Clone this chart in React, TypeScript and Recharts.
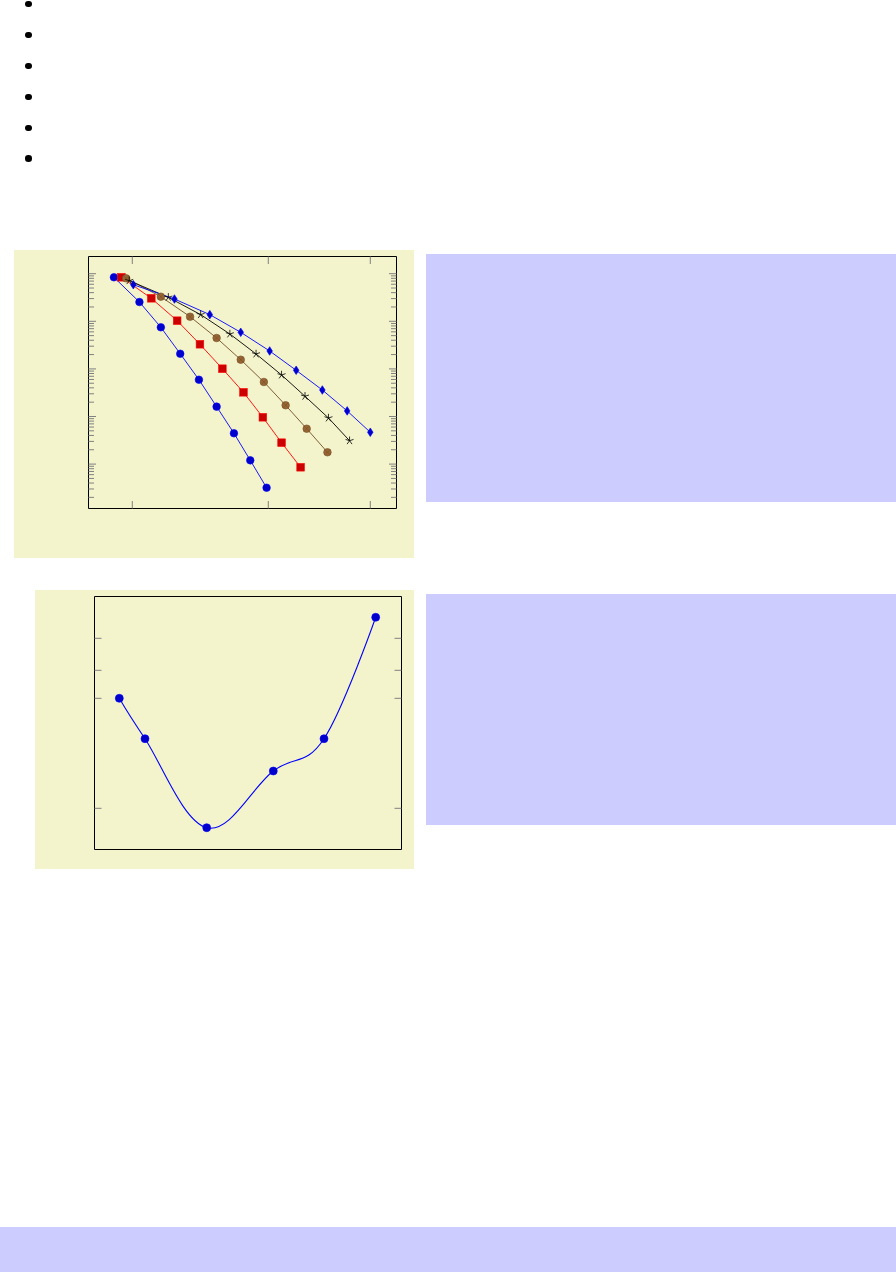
import React from 'react';
import { LineChart, Line, XAxis, YAxis, ReferenceArea } from 'recharts';

// ---------- data: chart 1 (log y) ----------
const seriesAx = [1.46, 2.21, 2.84, 3.41, 3.96, 4.48, 4.99, 5.47, 5.95];
const seriesAy = [0.84, 0.254, 0.0748, 0.0208, 0.00593, 0.00161, 4.44e-4, 1.2e-4, 3.19e-5];
const seriesBx = [1.68, 2.56, 3.32, 3.99, 4.65, 5.27, 5.84, 6.39, 6.95];
const seriesBy = [0.84, 0.304, 0.103, 0.0329, 0.0101, 0.00322, 9.62e-4, 2.82e-4, 8.57e-5];
const seriesCx = [1.82, 2.84, 3.7, 4.48, 5.19, 5.87, 6.51, 7.13, 7.74];
const seriesCy = [0.8, 0.329, 0.125, 0.0446, 0.0156, 0.00531, 0.00172, 5.54e-4, 1.77e-4];
const seriesDx = [1.91, 3.06, 4.01, 4.87, 5.64, 6.39, 7.08, 7.77, 8.39];
const seriesDy = [0.713, 0.319, 0.138, 0.0541, 0.0206, 0.00745, 0.00266, 9.3e-4, 3.1e-4];
const seriesEx = [2.03, 3.24, 4.28, 5.19, 6.04, 6.82, 7.59, 8.32, 9.0];
const seriesEy = [0.587, 0.294, 0.138, 0.0587, 0.0238, 0.00935, 0.0036, 0.00131, 4.66e-4];

const xTicks1 = [2, 6, 9];
const yMajor1 = [1, 0.1, 0.01, 0.001, 0.0001];
const yMantissas = [2, 3, 4, 5, 6, 7, 8, 9];
const yMinorExps = [-1, -2, -3, -4, -5];

// ---------- data: chart 2 ----------
const curveX = [2.48, 5.05, 11.22, 17.88, 22.95, 28.12];
const curveY = [15.12, 11.08, 2.18, 7.85, 11.08, 23.22];
const yTicks2 = [21.12, 17.92, 15.12, 4.12];

const bulletRows = [0, 1, 2, 3, 4, 5];

const zip = (xs: number[], ys: number[]) => xs.map((x, i) => ({ x, y: ys[i] }));

const yMinor1 = yMinorExps.flatMap((e) => yMantissas.map((m) => m * Math.pow(10, e)));
const yTicks1 = [...yMajor1, ...yMinor1];

const PANEL_BG = '#F4F4CC';
const BOX_BG = '#CCCCFF';
const TICK = '#808080';

// chart 1 geometry (axes take 1px each)
const W1 = 400, H1 = 308;
const M1 = { top: 5.5, left: 73.5, right: 17.5, bottom: 48.5 };
const P1 = { left: 74.5, right: W1 - 17.5, top: 6.5, bottom: H1 - 49.5 };
// chart 2 geometry
const W2 = 379, H2 = 279;
const M2 = { top: 6.5, left: 58.5, right: 12.5, bottom: 19.5 };
const P2 = { left: 59.5, right: W2 - 12.5 };

const X1_DOMAIN: [number, number] = [0.712, 9.771];
const Y1_DOMAIN: [number, number] = [1.167e-5, 2.298];
const X2_DOMAIN: [number, number] = [0, 30.7];
const Y2_DOMAIN: [number, number] = [0, 25.3];

const isMajor = (v: number) => {
  const l = Math.log10(v);
  return Math.abs(l - Math.round(l)) < 1e-6;
};

// pgf/TikZ-like smooth curve
function pgfSmooth(context: any) {
  let pts: number[][] = [];
  return {
    areaStart() {},
    areaEnd() {},
    lineStart() {
      pts = [];
    },
    point(x: number, y: number) {
      pts.push([+x, +y]);
    },
    lineEnd() {
      const n = pts.length;
      if (!n) return;
      context.moveTo(pts[0][0], pts[0][1]);
      if (n === 1) return;
      if (n === 2) {
        context.lineTo(pts[1][0], pts[1][1]);
        return;
      }
      const k = 0.1833;
      for (let i = 0; i < n - 1; i++) {
        const p1 = pts[i];
        const p2 = pts[i + 1];
        let c1: number[];
        let c2: number[];
        if (i === 0) c1 = p1;
        else {
          const p0 = pts[i - 1];
          c1 = [p1[0] + k * (p2[0] - p0[0]), p1[1] + k * (p2[1] - p0[1])];
        }
        if (i + 2 >= n) c2 = p2;
        else {
          const p3 = pts[i + 2];
          c2 = [p2[0] - k * (p3[0] - p1[0]), p2[1] - k * (p3[1] - p1[1])];
        }
        context.bezierCurveTo(c1[0], c1[1], c2[0], c2[1], p2[0], p2[1]);
      }
    },
  };
}

// ---------- markers ----------
const dotCircle = (fill: string, stroke: string, r: number) => (p: any) => (
  <circle key={`c-${p.index}`} cx={p.cx} cy={p.cy} r={r} fill={fill} stroke={stroke} strokeWidth={0.6} />
);
const dotSquare = (p: any) => (
  <rect key={`s-${p.index}`} x={p.cx - 3.8} y={p.cy - 3.8} width={7.6} height={7.6} fill="#CC0000" stroke="#FF0000" strokeWidth={0.6} />
);
const dotOtimes = (p: any) => {
  const r = 3.8;
  const d = r * 0.7071;
  return (
    <g key={`o-${p.index}`}>
      <circle cx={p.cx} cy={p.cy} r={r} fill="#996633" stroke="#734D26" strokeWidth={0.6} />
      <line x1={p.cx - d} y1={p.cy - d} x2={p.cx + d} y2={p.cy + d} stroke="#734D26" strokeWidth={0.6} />
      <line x1={p.cx - d} y1={p.cy + d} x2={p.cx + d} y2={p.cy - d} stroke="#734D26" strokeWidth={0.6} />
    </g>
  );
};
const starAngles = [90, 162, 234, 306, 18];
const dotStar = (p: any) => (
  <g key={`t-${p.index}`}>
    {starAngles.map((a) => {
      const rad = (a * Math.PI) / 180;
      return (
        <line key={a} x1={p.cx} y1={p.cy} x2={p.cx + 4.2 * Math.cos(rad)} y2={p.cy - 4.2 * Math.sin(rad)} stroke="#000" strokeWidth={0.8} />
      );
    })}
  </g>
);
const dotDiamond = (p: any) => (
  <polygon
    key={`d-${p.index}`}
    points={`${p.cx},${p.cy - 4.3} ${p.cx + 2.8},${p.cy} ${p.cx},${p.cy + 4.3} ${p.cx - 2.8},${p.cy}`}
    fill="#0000CC"
    stroke="#0000FF"
    strokeWidth={0.6}
  />
);

// ---------- tick renderers ----------
const yTickRender1 = (p: any) => {
  const v = p.payload.value;
  const len = isMajor(v) ? 7.5 : 5.5;
  const l = P1.left;
  const r = P1.right;
  return (
    <g key={`yt-${p.index}`}>
      <line x1={l} x2={l + len} y1={p.y} y2={p.y} stroke={TICK} strokeWidth={1} />
      <line x1={r - len} x2={r} y1={p.y} y2={p.y} stroke={TICK} strokeWidth={1} />
    </g>
  );
};
const xTickRender1 = (p: any) => {
  const t = P1.top;
  const b = P1.bottom;
  return (
    <g key={`xt-${p.index}`}>
      <line x1={p.x} x2={p.x} y1={b} y2={b - 7.5} stroke={TICK} strokeWidth={1} />
      <line x1={p.x} x2={p.x} y1={t} y2={t + 7.5} stroke={TICK} strokeWidth={1} />
    </g>
  );
};
const yTickRender2 = (p: any) => {
  const l = P2.left;
  const r = P2.right;
  return (
    <g key={`yt2-${p.index}`}>
      <line x1={l} x2={l + 7} y1={p.y} y2={p.y} stroke={TICK} strokeWidth={1} />
      <line x1={r - 7} x2={r} y1={p.y} y2={p.y} stroke={TICK} strokeWidth={1} />
    </g>
  );
};

function ChartOne() {
  return (
    <LineChart width={W1} height={H1} margin={M1}>
      <XAxis
        type="number"
        dataKey="x"
        domain={X1_DOMAIN}
        allowDataOverflow
        ticks={xTicks1}
        interval={0}
        height={1}
        tickSize={0}
        tickMargin={0}
        axisLine={false}
        tickLine={false}
        tick={xTickRender1}
      />
      <XAxis
        xAxisId="top"
        orientation="top"
        type="number"
        dataKey="x"
        domain={X1_DOMAIN}
        allowDataOverflow
        height={1}
        tick={false}
        axisLine={false}
        tickLine={false}
      />
      <YAxis
        type="number"
        scale="log"
        domain={Y1_DOMAIN}
        allowDataOverflow
        ticks={yTicks1}
        interval={0}
        width={1}
        tickSize={0}
        tickMargin={0}
        axisLine={false}
        tickLine={false}
        tick={yTickRender1}
      />
      <ReferenceArea x1={X1_DOMAIN[0]} x2={X1_DOMAIN[1]} y1={Y1_DOMAIN[0]} y2={Y1_DOMAIN[1]} fill="none" stroke="#000" strokeWidth={1} fillOpacity={0} strokeOpacity={1} ifOverflow="visible" />
      <Line data={zip(seriesAx, seriesAy)} dataKey="y" type="linear" stroke="#0000FF" strokeWidth={0.9} dot={dotCircle('#0000CC', '#0000FF', 3.8)} activeDot={false} isAnimationActive={false} />
      <Line data={zip(seriesBx, seriesBy)} dataKey="y" type="linear" stroke="#FF0000" strokeWidth={0.9} dot={dotSquare} activeDot={false} isAnimationActive={false} />
      <Line data={zip(seriesCx, seriesCy)} dataKey="y" type="linear" stroke="#734D26" strokeWidth={0.9} dot={dotOtimes} activeDot={false} isAnimationActive={false} />
      <Line data={zip(seriesDx, seriesDy)} dataKey="y" type="linear" stroke="#000000" strokeWidth={0.9} dot={dotStar} activeDot={false} isAnimationActive={false} />
      <Line data={zip(seriesEx, seriesEy)} dataKey="y" type="linear" stroke="#0000FF" strokeWidth={0.9} dot={dotDiamond} activeDot={false} isAnimationActive={false} />
    </LineChart>
  );
}

function ChartTwo() {
  return (
    <LineChart width={W2} height={H2} margin={M2} data={zip(curveX, curveY)}>
      <XAxis type="number" dataKey="x" domain={X2_DOMAIN} allowDataOverflow hide />
      <YAxis
        type="number"
        domain={Y2_DOMAIN}
        allowDataOverflow
        ticks={yTicks2}
        interval={0}
        width={1}
        tickSize={0}
        tickMargin={0}
        axisLine={false}
        tickLine={false}
        tick={yTickRender2}
      />
      <ReferenceArea x1={X2_DOMAIN[0]} x2={X2_DOMAIN[1]} y1={Y2_DOMAIN[0]} y2={Y2_DOMAIN[1]} fill="none" stroke="#000" strokeWidth={1} fillOpacity={0} strokeOpacity={1} ifOverflow="visible" />
      <Line dataKey="y" type={pgfSmooth as any} stroke="#0000FF" strokeWidth={1.1} dot={dotCircle('#0000CC', '#0000FF', 4)} activeDot={false} isAnimationActive={false} />
    </LineChart>
  );
}

export default function App() {
  return (
    <div style={{ position: 'absolute', left: 0, top: 0, width: 896, height: 1272, overflow: 'hidden', background: '#fff' }}>
      {bulletRows.map((i) => (
        <div
          key={i}
          style={{ position: 'absolute', left: 25.4, top: 0.7 + i * 30.95, width: 6.6, height: 6.6, borderRadius: '50%', background: '#000' }}
        />
      ))}

      <div style={{ position: 'absolute', left: 14, top: 250, width: W1, height: H1, background: PANEL_BG }}>
        <ChartOne />
      </div>
      <div style={{ position: 'absolute', left: 426, top: 254, width: 470, height: 248, background: BOX_BG }} />

      <div style={{ position: 'absolute', left: 35, top: 590, width: W2, height: H2, background: PANEL_BG }}>
        <ChartTwo />
      </div>
      <div style={{ position: 'absolute', left: 426, top: 594, width: 470, height: 231, background: BOX_BG }} />

      <div style={{ position: 'absolute', left: 0, top: 1227, width: 896, height: 45, background: BOX_BG }} />
    </div>
  );
}
